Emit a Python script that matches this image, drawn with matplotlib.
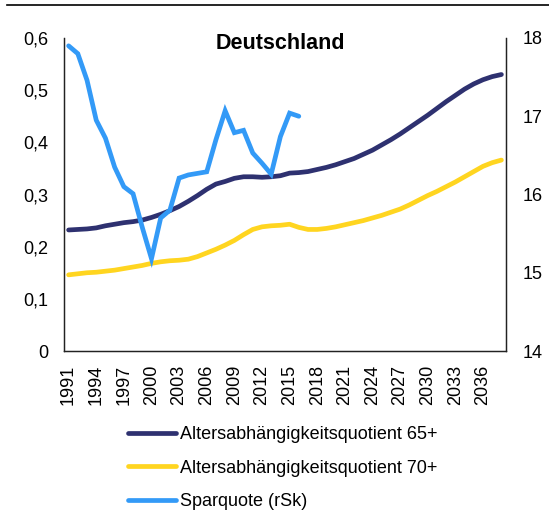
import matplotlib
matplotlib.use("Agg")
import matplotlib.pyplot as plt
from matplotlib.lines import Line2D

plt.rcParams['font.family'] = ['Liberation Sans', 'DejaVu Sans']

years = list(range(1991, 2039))

alq65 = [0.232, 0.233, 0.234, 0.236, 0.240, 0.243, 0.246, 0.248, 0.251, 0.256,
         0.262, 0.269, 0.277, 0.287, 0.298, 0.310, 0.320, 0.325, 0.331, 0.334,
         0.334, 0.333, 0.334, 0.336, 0.341, 0.342, 0.344, 0.348, 0.352, 0.357,
         0.363, 0.369, 0.377, 0.385, 0.395, 0.405, 0.416, 0.428, 0.440, 0.452,
         0.465, 0.478, 0.490, 0.502, 0.512, 0.520, 0.526, 0.530]

alq70 = [0.146, 0.148, 0.150, 0.151, 0.153, 0.155, 0.158, 0.161, 0.164, 0.168,
         0.171, 0.173, 0.174, 0.176, 0.181, 0.188, 0.195, 0.203, 0.212, 0.223,
         0.233, 0.238, 0.240, 0.241, 0.243, 0.237, 0.233, 0.233, 0.235, 0.238,
         0.242, 0.246, 0.250, 0.255, 0.260, 0.266, 0.272, 0.280, 0.289, 0.298,
         0.306, 0.315, 0.324, 0.334, 0.344, 0.354, 0.361, 0.366]

spar_years = list(range(1991, 2017))
sparquote = [17.90, 17.80, 17.46, 16.95, 16.72, 16.35, 16.10, 16.01, 15.58, 15.18,
             15.70, 15.80, 16.21, 16.25, 16.27, 16.29, 16.70, 17.07, 16.79, 16.82,
             16.53, 16.40, 16.26, 16.74, 17.04, 17.00]

left_ticks = [0, 0.1, 0.2, 0.3, 0.4, 0.5, 0.6]
left_labels = ['0', '0,1', '0,2', '0,3', '0,4', '0,5', '0,6']
right_ticks = [14, 15, 16, 17, 18]
tick_years = list(range(1991, 2037, 3))

labels = ['Altersabhängigkeitsquotient 65+', 'Altersabhängigkeitsquotient 70+', 'Sparquote (rSk)']
c65, c70, cspar = '#2e3170', '#ffd520', '#339af7'

fig = plt.figure(figsize=(5.49, 5.13), dpi=100)
ax = fig.add_axes([64 / 549, 1 - 351 / 513, (506 - 64) / 549, (351 - 38) / 513])
ax2 = ax.twinx()

xi = [y - 1991 for y in years]
xs = [y - 1991 for y in spar_years]
lw = 3.4
l1, = ax.plot(xi, alq65, color=c65, lw=lw, solid_capstyle='round')
l2, = ax.plot(xi, alq70, color=c70, lw=lw, solid_capstyle='round')
l3, = ax2.plot(xs, sparquote, color=cspar, lw=lw, solid_capstyle='round', solid_joinstyle='miter')

ax.set_xlim(-0.5, len(years) - 0.5)
ax.set_ylim(0, 0.6)
ax2.set_ylim(14, 18)

ax.set_yticks(left_ticks)
ax.set_yticklabels(left_labels)
ax2.set_yticks(right_ticks)
ax2.set_yticklabels([str(v) for v in right_ticks])
ax.set_xticks([y - 1991 for y in tick_years])
ax.set_xticklabels([str(y) for y in tick_years], rotation=90)

for a in (ax, ax2):
    a.tick_params(length=0, labelsize=13, colors='black')
    a.spines['top'].set_visible(False)
    for s in ('left', 'right', 'bottom'):
        a.spines[s].set_linewidth(0.9)
        a.spines[s].set_color('#222222')
ax.tick_params(axis='y', pad=11)
ax2.tick_params(axis='y', pad=12)
ax.tick_params(axis='x', pad=10)

ax.text(0.49, 0.982, 'Deutschland', transform=ax.transAxes, ha='center', va='center',
        fontsize=15.5, fontweight='bold')

fig.add_artist(Line2D([7 / 549, 1.0], [1 - 4.5 / 513, 1 - 4.5 / 513], color='black', lw=1.2,
                      transform=fig.transFigure))

fig.legend([l1, l2, l3], labels, loc='upper left', bbox_to_anchor=(128 / 549, 1 - 426 / 513),
           frameon=False, fontsize=13, handlelength=2.65, handletextpad=0.25,
           labelspacing=0.92, borderpad=0, borderaxespad=0)

fig.savefig('out.png', dpi=100)
